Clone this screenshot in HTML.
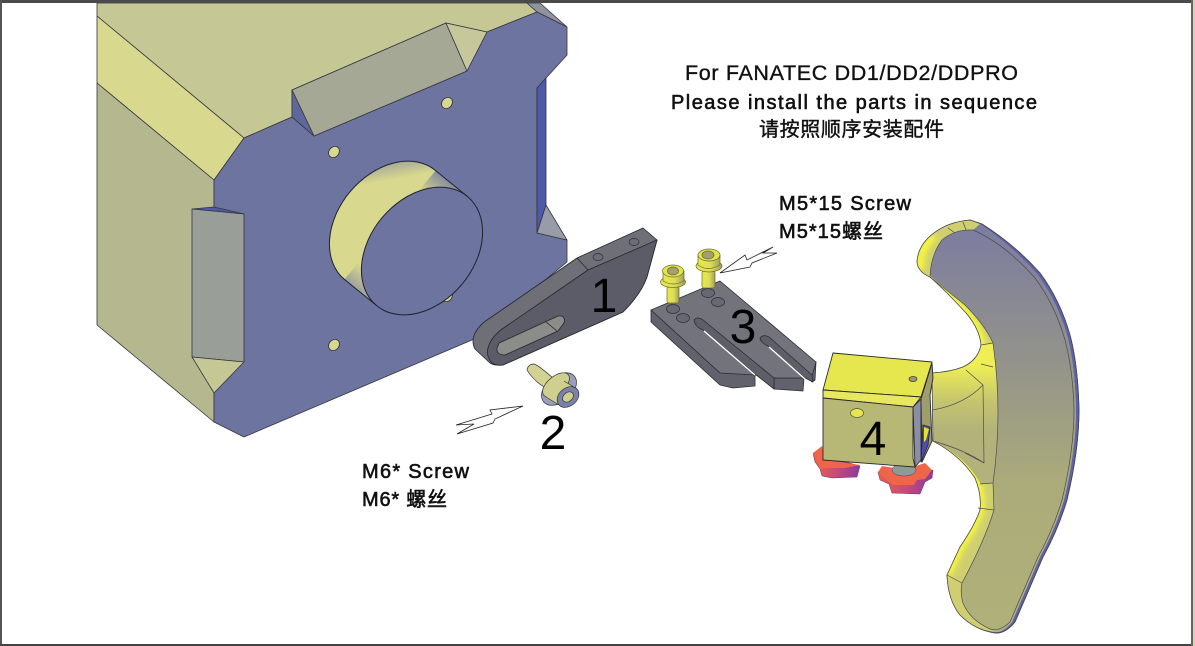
<!DOCTYPE html>
<html><head><meta charset="utf-8"><style>
html,body{margin:0;padding:0;background:#fff;width:1195px;height:646px;overflow:hidden}
svg{display:block}
.t{font-family:"Liberation Sans","Noto Sans CJK SC",sans-serif;fill:#111;stroke:#111;stroke-width:.6}
.n{font-family:"Liberation Sans",sans-serif;font-size:48px;fill:#000;text-anchor:middle}
</style></head><body>
<svg width="1195" height="646" viewBox="0 0 1195 646" xmlns="http://www.w3.org/2000/svg">
<defs>
<linearGradient id="cyl" gradientUnits="userSpaceOnUse" x1="462" y1="168" x2="350" y2="302">
<stop offset=".09" stop-color="#7f84a0"/><stop offset=".26" stop-color="#d8d88e"/><stop offset=".8" stop-color="#d8d88e"/><stop offset=".93" stop-color="#9a9ca0"/></linearGradient>
<linearGradient id="face" gradientUnits="userSpaceOnUse" x1="1000" y1="225" x2="1000" y2="630">
<stop offset="0" stop-color="#7c7ca0"/><stop offset=".35" stop-color="#94948a"/><stop offset=".65" stop-color="#acac7a"/><stop offset="1" stop-color="#b0b07a"/></linearGradient>
<linearGradient id="stem" gradientUnits="userSpaceOnUse" x1="950" y1="365" x2="950" y2="432">
<stop offset="0" stop-color="#efef55"/><stop offset=".55" stop-color="#c4c470"/><stop offset="1" stop-color="#b2b27a"/></linearGradient>
<linearGradient id="kn" x1="0" y1="0" x2="1" y2="0">
<stop offset="0" stop-color="#e8604c"/><stop offset=".5" stop-color="#c84a78"/><stop offset="1" stop-color="#8a3aa0"/></linearGradient>
<linearGradient id="scr" x1="0" y1="0" x2="1" y2="0">
<stop offset="0" stop-color="#e8e84a"/><stop offset=".55" stop-color="#dede55"/><stop offset="1" stop-color="#a0a060"/></linearGradient>
<filter id="bl" x="-20%" y="-20%" width="140%" height="140%"><feGaussianBlur stdDeviation="3"/></filter>
<clipPath id="pclip"><path d="M917,262 Q918,245 934,233 Q948,222 970,220 L980,224 Q1012,246 1037,274 Q1057,301 1067,335 Q1075,365 1076,410 Q1076,450 1064,500 Q1055,530 1040,557 L1012,622 Q1003,633 995,632 Q975,630 960,615 Q948,600 947,575 L960,547 Q975,525 980,510 Q982,495 975,478 Q960,455 933,441 L932,373 Q950,372 963,367 Q978,360 981,345 Q980,330 967,314 Q945,290 930,277 Q918,272 917,262 Z"/></clipPath>
</defs>
<rect width="1195" height="646" fill="#fff"/>

<!-- main housing -->
<g stroke="#34363e" stroke-width=".8" stroke-linejoin="round">
<polygon points="97,3 527,3 537,12 487,32 446,23 292,90 292,117 244,138 97,16" fill="#c5c794"/>
<polygon points="97,16 244,138 214,180 97,83" fill="#d8d88e"/>
<polygon points="97,83 214,180 214,422 97,325" fill="#b5b88f"/>
<polygon points="527,3 540,3 567,27 537,12" fill="#8f93a0"/>
<polygon points="537,12 567,27 567,55 537,88 537,233 567,240 567,262 472,340 244,437 214,422 214,180 244,138 292,117 314,136 467,71 487,32" fill="#6c749f"/>
<polygon points="537,88 546,78 546,205 537,233" fill="#4e5aa8"/>
<polygon points="546,205 567,240 537,233" fill="#989ca8"/>
<polygon points="292,90 446,23 467,71 314,136" fill="#a5a894"/>
<polygon points="292,90 314,136 292,117" fill="#5f689c"/>
<polygon points="446,23 487,32 467,71" fill="#c6c89c"/>
<polygon points="192,209 214,207 244,214" fill="#4e5aa8"/>
<polygon points="192,209 244,214 244,362 192,357" fill="#9a9e98"/>
<polygon points="192,357 244,362 214,393" fill="#c5c794"/>
</g>
<g fill="#d8d88e" stroke="#30323a" stroke-width=".8">
<ellipse cx="447" cy="103" rx="6" ry="5" transform="rotate(-50 447 103)"/>
<ellipse cx="334" cy="152" rx="6" ry="5" transform="rotate(-50 334 152)"/>
<ellipse cx="447" cy="296" rx="6" ry="5" transform="rotate(-50 447 296)"/>
<ellipse cx="334" cy="345" rx="6" ry="5" transform="rotate(-50 334 345)"/>
</g>
<!-- cylinder -->
<ellipse cx="390" cy="225" rx="71" ry="52" transform="rotate(-50 390 225)" fill="url(#cyl)" stroke="#20222c" stroke-width="1"/>
<polygon points="467.6,196.6 435.6,170.6 344.4,279.4 376.4,305.4" fill="url(#cyl)"/>
<path d="M467.6,196.6 L435.6,170.6 M344.4,279.4 L376.4,305.4" stroke="#20222c" stroke-width="1" fill="none"/>
<ellipse cx="422" cy="251" rx="71" ry="52" transform="rotate(-50 422 251)" fill="#6c749f" stroke="#20222c" stroke-width="1"/>

<!-- bracket 1 -->
<g stroke="#25252c" stroke-width=".8" stroke-linejoin="round">
<path d="M643,228 L657,240 L647,277 Q641,294 623,312 L503,365 Q495,366 490,363 L475,349 Q471,342 475,333 Q480,324 490,318 L577,258 Z" fill="#6f6f78"/>
<path d="M588,270 L657,240 L647,277 Q641,294 623,312 L503,365 Q495,366 491,362 Q485,354 489,345 Q493,335 505,327 Z" fill="#5c5c68"/>
<path d="M499,343 L558,316 Q566,315 564,323 L558,331 L505,355 Q496,355 497,348 Z" fill="#8c8c88"/>
<line x1="577" y1="258" x2="588" y2="270"/>
<line x1="546" y1="322" x2="557" y2="331"/>
</g>
<g fill="#6c6c76" stroke="#2c2c34" stroke-width=".7">
<ellipse cx="598" cy="257" rx="5" ry="3.5"/><ellipse cx="634" cy="242" rx="5" ry="3.5"/>
</g>

<!-- M6 screw -->
<g stroke="#30323c" stroke-width=".7">
<path d="M527,370 Q528,364 534,364 Q538,365 553,378 L544,387 Q533,380 527,370 Z" fill="#d2d292"/>
<ellipse cx="559" cy="389" rx="20" ry="13" transform="rotate(-40 559 389)" fill="#9aa0ba"/>
<ellipse cx="556" cy="385" rx="16" ry="8.5" transform="rotate(-40 556 385)" fill="#d0d08e"/>
<polygon points="564,381 577,389 559,405 546,397" fill="#d0d08e" stroke="none"/>
<path d="M564,381 L577,389 M546,397 L559,405" fill="none"/>
<ellipse cx="568" cy="397" rx="12" ry="9" transform="rotate(-40 568 397)" fill="#7a82aa"/>
<ellipse cx="568" cy="397" rx="6" ry="4.5" transform="rotate(-40 568 397)" fill="#cfcf90"/>
</g>

<!-- plate 3 -->
<g stroke="#2c2c34" stroke-width=".8" stroke-linejoin="round">
<polygon points="651,310 651,322 720,385 733,388 755,386 755,374 720,373" fill="#62626c"/>
<polygon points="774,378 774,389 803,391 804,378" fill="#62626c"/>
<polygon points="816,362 815,380 812,382 806,376" fill="#62626c"/>
<polygon points="651,310 720,281 816,362 812,376 805,378 774,378 755,375 720,373" fill="#73737c"/>
<path d="M694,320 Q697,316 703,320 L774,378 L774,389 L755,374 L703,330 Q695,327 694,320 Z" fill="#5e5e68"/>
<path d="M760,338 Q763,334 769,337 L812,375 L813,382 L805,378 L768,346 Q761,343 760,338 Z" fill="#5e5e68"/>
</g>
<line x1="704" y1="331" x2="755" y2="375" stroke="#fff" stroke-width="1.4"/>
<line x1="769" y1="347" x2="805" y2="379" stroke="#fff" stroke-width="1.4"/>
<g fill="#686872" stroke="#2c2c34" stroke-width=".7">
<ellipse cx="673" cy="309" rx="6.5" ry="4.5"/><ellipse cx="683" cy="318" rx="6.5" ry="4.5"/>
<ellipse cx="708" cy="293" rx="6.5" ry="4.5"/><ellipse cx="718" cy="302" rx="6.5" ry="4.5"/>
</g>
<!-- M5 screws -->
<g stroke="#6a6a30" stroke-width=".7" fill="url(#scr)">
<rect x="667" y="286" width="12" height="17" rx="2"/>
<ellipse cx="673" cy="282" rx="12.5" ry="5.5"/>
<path d="M663,271 Q673,263 684,271 L684,281 Q673,287 663,281 Z"/>
<ellipse cx="673" cy="271" rx="10.5" ry="6" fill="#e4e448"/>
<ellipse cx="673" cy="271" rx="5.5" ry="4" fill="#a0a070"/>
<rect x="702" y="271" width="13" height="17" rx="2"/>
<ellipse cx="709" cy="266" rx="13" ry="6"/>
<path d="M698,255 Q708,247 720,255 L720,265 Q708,272 698,265 Z"/>
<ellipse cx="709" cy="255" rx="11" ry="6" fill="#e4e448"/>
<ellipse cx="708" cy="255" rx="6" ry="4" fill="#a0a070"/>
</g>
<!-- arrows -->
<g fill="#fff" stroke="#222" stroke-width=".8" stroke-linejoin="miter">
<polygon points="720,273 745,255 747,260 773,247 763,253 777,253 752,263 750,267"/>
<polygon points="523,406 490,410 492,414 456,425 474,424 457,434 493,423 495,419"/>
</g>

<!-- paddle -->
<path d="M917,262 Q918,245 934,233 Q948,222 970,220 L982,224 Q1015,245 1040,273 Q1060,300 1070,335 Q1078,365 1079,410 Q1079,450 1067,500 Q1058,530 1043,557 L1015,622 Q1005,634 995,633 Q975,630 960,615 Q948,600 947,575 L960,547 Q975,525 980,510 Q982,495 975,478 Q960,455 933,441 L932,373 Q950,372 963,367 Q978,360 981,345 Q980,330 967,314 Q945,290 930,277 Q918,272 917,262 Z" fill="#5d62ac" stroke="#333" stroke-width=".8"/>
<path d="M917,262 Q918,245 934,233 Q948,222 970,220 L980,224 Q1012,246 1037,274 Q1057,301 1067,335 Q1075,365 1076,410 Q1076,450 1064,500 Q1055,530 1040,557 L1012,622 Q1003,633 995,632 Q975,630 960,615 Q948,600 947,575 L960,547 Q975,525 980,510 Q982,495 975,478 Q960,455 933,441 L932,373 Q950,372 963,367 Q978,360 981,345 Q980,330 967,314 Q945,290 930,277 Q918,272 917,262 Z" fill="#cfcf72"/>
<g clip-path="url(#pclip)">
<path d="M920,270 Q918,248 934,236 M930,277 Q945,290 967,314 Q980,330 981,345 Q978,360 963,367 Q950,372 932,373 M933,441 Q960,455 975,478 Q982,495 980,510 Q975,525 960,547 L947,575" fill="none" stroke="#f6f63c" stroke-width="9" filter="url(#bl)"/>
</g>
<path d="M930,276 Q931,255 942,240 Q955,229 973,230 L980,224 Q1012,246 1037,274 Q1057,301 1067,335 Q1075,365 1076,410 Q1076,450 1064,500 Q1055,530 1040,557 L1012,622 Q1003,633 995,632 L990,629 Q970,620 963,603 Q960,592 962,583 Q985,540 994,510 L993,483 Q1003,413 993,343 Q985,325 965,305 Z" fill="url(#face)"/>
<path d="M933,373 Q950,372 963,367 Q978,360 981,345 L993,343 Q1003,413 993,483 L981,484 Q965,456 933,441 Z" fill="url(#stem)"/>
<g fill="none" stroke="#4c4c50" stroke-width=".7" stroke-linejoin="round">
<path d="M942,240 Q955,229 973,230 Q1005,244 1035,278 Q1055,305 1065,340 Q1073,370 1074,410 Q1074,450 1062,500 Q1053,530 1038,557 L1010,622 Q1000,632 990,629 Q970,620 963,603 Q960,592 962,583"/>
<path d="M930,276 Q931,255 942,240"/>
<path d="M930,277 L965,305 Q985,325 993,343 Q1003,413 993,483 L994,510 Q985,540 962,583"/>
<path d="M933,410 Q965,404 983,385 L984,463 Q965,450 933,441"/>
<path d="M981,345 L993,343 M981,364 L993,367 M980,484 L993,483 M978,508 L994,510 M947,575 L962,583 M966,370 L983,385 M965,453 L984,463 M948,228 L955,233 M963,222 L966,230"/>
<path d="M917,262 Q918,245 934,233 Q948,222 970,220 L982,224 Q1015,245 1040,273 Q1060,300 1070,335 Q1078,365 1079,410 Q1079,450 1067,500 Q1058,530 1043,557 L1015,622 Q1005,634 995,633 Q975,630 960,615 Q948,600 947,575 L960,547 Q975,525 980,510 Q982,495 975,478 Q960,455 933,441 L932,373 Q950,372 963,367 Q978,360 981,345 Q980,330 967,314 Q945,290 930,277 Q918,272 917,262 Z"/>
</g>

<!-- knobs -->
<g stroke="#6a3060" stroke-width=".5" stroke-linejoin="round">
<path d="M813,453 L815,462 L820,469 L822,476 L832,478 L857,477 L860,466 L825,456 Z" fill="url(#kn)"/>
<path d="M813,453 L822,446 L826,460 L860,465 L845,468 L825,468 L820,469 Z" fill="#ef6549" stroke="none"/>
<path d="M878,472 L880,480 L889,484 L892,493 L920,494 L925,482 L932,478 L933,470 L905,474 Z" fill="url(#kn)"/>
<path d="M878,472 L882,466 L895,468 L913,467 L925,463 L932,470 L925,479 L917,480 L914,485 L893,485 L889,482 Z" fill="#ef6549" stroke="none"/>
<ellipse cx="904" cy="470" rx="12" ry="6" fill="#8d9a96"/>
</g>
<!-- block 4 -->
<g stroke="#2a2a30" stroke-width=".9" stroke-linejoin="round">
<polygon points="921,399 932,363 933,378 930,395 932,441 922,462" fill="#9e9e6c"/>
<polygon points="923,425 930,427 928,445 921,462" fill="#4e4eb0"/>
<polygon points="924,427 929,429 926,440 924,442" fill="#e4e430" stroke="none"/>
<polygon points="913,407 921,399 921,460 915,467" fill="#8a8ea6"/>
<polygon points="833,353 932,362 921,397 823,390" fill="#e6e64e"/>
<polygon points="823,390 921,397 913,407 823,398" fill="#e8e860"/>
<polygon points="823,398 913,407 913,458 915,467 823,460" fill="#b8b876"/>
</g>
<ellipse cx="857" cy="413" rx="6.5" ry="4.5" fill="#e6e650" stroke="#55552a" stroke-width=".7"/>
<ellipse cx="913" cy="379" rx="4" ry="2.5" fill="#9a9a70" stroke="#33332a" stroke-width=".7"/>

<!-- numbers -->
<text class="n" x="604" y="312">1</text>
<text class="n" x="553" y="449">2</text>
<text class="n" x="743" y="343">3</text>
<text class="n" x="873" y="455">4</text>

<!-- text -->
<text class="t" x="685" y="80" font-size="21.5" textLength="333" lengthAdjust="spacing" style="stroke-width:.35">For FANATEC DD1/DD2/DDPRO</text>
<text class="t" x="671" y="109" font-size="20" textLength="366" lengthAdjust="spacing">Please install the parts in sequence</text>
<text class="t" x="759" y="136" font-size="20" textLength="185" lengthAdjust="spacing" style="stroke-width:.4">请按照顺序安装配件</text>
<text class="t" x="779" y="210" font-size="20" textLength="132" lengthAdjust="spacing">M5*15 Screw</text>
<text class="t" x="779" y="238" font-size="20" textLength="104" lengthAdjust="spacing">M5*15螺丝</text>
<text class="t" x="362" y="478" font-size="20" textLength="107" lengthAdjust="spacing">M6* Screw</text>
<text class="t" x="362" y="506" font-size="20" textLength="85" lengthAdjust="spacing">M6* 螺丝</text>

<!-- frame -->
<rect x="0" y="0" width="1195" height="3" fill="#4a4a4a"/>
<rect x="0" y="0" width="2" height="646" fill="#555"/>
<rect x="0" y="644" width="1195" height="2" fill="#444"/>
<rect x="1192" y="0" width="3" height="646" fill="#dccfb4"/>
<rect x="1191" y="0" width="2" height="646" fill="#666"/>
</svg>
</body></html>
